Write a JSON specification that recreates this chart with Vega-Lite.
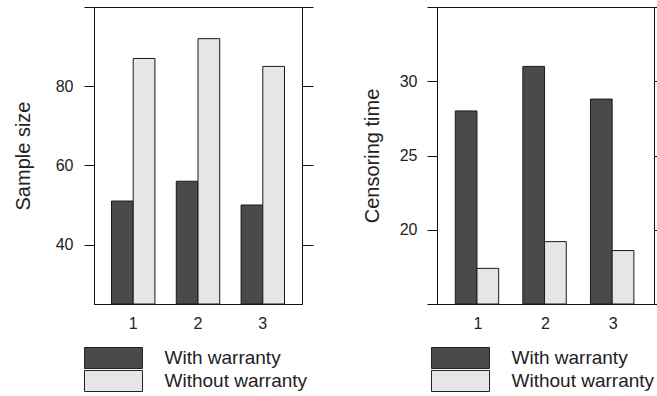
{
  "$schema": "https://vega.github.io/schema/vega-lite/v6.json",
  "padding": {"left": 12, "top": 6, "right": 0, "bottom": 0},
  "spacing": 47,
  "background": "white",
  "config": {
    "view": {"stroke": "#111", "strokeWidth": 1},
    "axis": {
      "labelFont": "Liberation Sans",
      "titleFont": "Liberation Sans",
      "labelFontSize": 16,
      "titleFontSize": 20,
      "titleFontWeight": "normal",
      "labelColor": "#222",
      "titleColor": "#222",
      "domainColor": "#111",
      "tickColor": "#111",
      "grid": false
    },
    "legend": {
      "orient": "none",
      "title": null,
      "symbolType": "M-2.9,-1.05H2.9V1.05H-2.9Z",
      "symbolSize": 400,
      "symbolStrokeColor": "#222",
      "symbolStrokeWidth": 1,
      "labelFont": "Liberation Sans",
      "labelFontSize": 19,
      "labelColor": "#222",
      "labelOffset": 40.5,
      "labelLimit": 400,
      "rowPadding": -5.5,
      "padding": 0
    }
  },
  "datasets": {
    "sample": [
      {"group": "1", "warranty": "With warranty", "value": 51},
      {"group": "1", "warranty": "Without warranty", "value": 87},
      {"group": "2", "warranty": "With warranty", "value": 56},
      {"group": "2", "warranty": "Without warranty", "value": 92},
      {"group": "3", "warranty": "With warranty", "value": 50},
      {"group": "3", "warranty": "Without warranty", "value": 85}
    ],
    "cens": [
      {"group": "1", "warranty": "With warranty", "value": 28.0},
      {"group": "1", "warranty": "Without warranty", "value": 17.4},
      {"group": "2", "warranty": "With warranty", "value": 31.0},
      {"group": "2", "warranty": "Without warranty", "value": 19.2},
      {"group": "3", "warranty": "With warranty", "value": 28.8},
      {"group": "3", "warranty": "Without warranty", "value": 18.6}
    ]
  },
  "resolve": {"scale": {"color": "independent"}, "legend": {"color": "independent"}},
  "hconcat": [
    {
      "width": 208,
      "height": 297,
      "data": {"name": "sample"},
      "layer": [
        {
          "mark": {"type": "bar", "stroke": "#1a1a1a", "strokeWidth": 1},
          "encoding": {
            "x": {"field": "group", "type": "nominal", "title": null,
              "scale": {"paddingInner": 0.33, "paddingOuter": 0.27},
              "axis": {"labelAngle": 0, "ticks": false, "tickSize": 0, "labelPadding": 11}},
            "xOffset": {"field": "warranty", "type": "nominal", "sort": ["With warranty", "Without warranty"],
              "scale": {"paddingInner": 0, "paddingOuter": 0}},
            "y": {"field": "value", "type": "quantitative",
              "scale": {"domain": [25, 100], "zero": false, "nice": false},
              "axis": {"title": "Sample size", "values": [40, 60, 80, 100],
                "labelExpr": "datum.value == 100 ? '' : datum.label",
                "tickSize": 10, "labelPadding": 11, "titlePadding": 22}},
            "y2": {"datum": 25},
            "color": {"field": "warranty", "type": "nominal",
              "scale": {"domain": ["With warranty", "Without warranty"], "range": ["#4a4a4a", "#e6e6e6"]},
              "legend": {"legendX": 9, "legendY": 340.5}}
          }
        },
        {
          "mark": {"type": "point", "opacity": 0},
          "encoding": {
            "y": {"field": "value", "type": "quantitative",
              "axis": {"orient": "right", "title": null, "labels": false, "values": [40, 60, 80, 100], "tickSize": 11}}
          }
        }
      ],
      "resolve": {"axis": {"y": "independent"}}
    },
    {
      "width": 217,
      "height": 297,
      "data": {"name": "cens"},
      "layer": [
        {
          "mark": {"type": "bar", "stroke": "#1a1a1a", "strokeWidth": 1},
          "encoding": {
            "x": {"field": "group", "type": "nominal", "title": null,
              "scale": {"paddingInner": 0.33, "paddingOuter": 0.27},
              "axis": {"labelAngle": 0, "ticks": false, "tickSize": 0, "labelPadding": 11}},
            "xOffset": {"field": "warranty", "type": "nominal", "sort": ["With warranty", "Without warranty"],
              "scale": {"paddingInner": 0, "paddingOuter": 0}},
            "y": {"field": "value", "type": "quantitative",
              "scale": {"domain": [15, 35], "zero": false, "nice": false},
              "axis": {"title": "Censoring time", "values": [15, 20, 25, 30, 35],
                "labelExpr": "datum.value == 15 || datum.value == 35 ? '' : datum.label",
                "tickSize": 10, "labelPadding": 10, "titlePadding": 17}},
            "y2": {"datum": 15},
            "color": {"field": "warranty", "type": "nominal",
              "scale": {"domain": ["With warranty", "Without warranty"], "range": ["#4a4a4a", "#e6e6e6"]},
              "legend": {"legendX": 13, "legendY": 340.5}}
          }
        },
        {
          "mark": {"type": "point", "opacity": 0},
          "encoding": {
            "y": {"field": "value", "type": "quantitative",
              "axis": {"orient": "right", "title": null, "labels": false, "values": [15, 20, 25, 30, 35], "tickSize": 11}}
          }
        }
      ],
      "resolve": {"axis": {"y": "independent"}}
    }
  ]
}
